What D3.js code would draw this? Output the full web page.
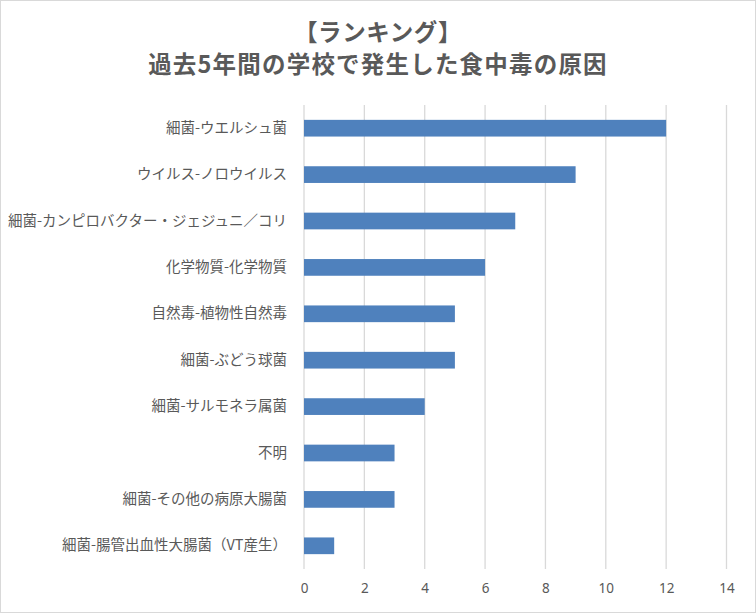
<!DOCTYPE html>
<html><head><meta charset="utf-8">
<script src="https://cdn.jsdelivr.net/npm/d3@7"></script>
<style>
body{margin:0;background:#fff;}
text{font-family:"Noto Sans CJK JP","Noto Sans",sans-serif;fill:#595959;}
</style></head>
<body><svg id="c" width="756" height="613"></svg>
<script>
const titleLines = ["【ランキング】", "過去5年間の学校で発生した食中毒の原因"];
const categories = ["細菌-ウエルシュ菌","ウイルス-ノロウイルス","細菌-カンピロバクター・ジェジュニ／コリ","化学物質-化学物質","自然毒-植物性自然毒","細菌-ぶどう球菌","細菌-サルモネラ属菌","不明","細菌-その他の病原大腸菌","細菌-腸管出血性大腸菌（VT産生）"];
const values = [12, 9, 7, 6, 5, 5, 4, 3, 3, 1];
const xTicks = [0, 2, 4, 6, 8, 10, 12, 14];

const svg = d3.select("#c");
svg.append("rect").attr("x",0.5).attr("y",0.5).attr("width",755).attr("height",612)
  .attr("fill","#fff").attr("stroke","#D9D9D9");

const x = d3.scaleLinear().domain([0,14]).range([304, 726.5]);
const y = d3.scaleBand().domain(categories).range([105, 569]).paddingInner(0.64).paddingOuter(0.32);

// title (single text element, two lines)
const title = svg.append("text")
  .attr("text-anchor","middle").attr("font-size",23.5).attr("font-weight","bold");
title.selectAll("tspan").data(titleLines).join("tspan")
  .attr("x",378).attr("y",(d,i)=>33+i*31.5).attr("dy","0.36em")
  .attr("letter-spacing",(d,i)=>i===1?1.2:0.6)
  .text(d=>d);

// gridlines
svg.append("g").selectAll("line").data(xTicks).join("line")
  .attr("x1",d=>x(d)).attr("x2",d=>x(d)).attr("y1",105).attr("y2",569)
  .attr("stroke","#D9D9D9").attr("stroke-width",1.3);

// bars
svg.append("g").selectAll("rect").data(values).join("rect")
  .attr("x",x(0)).attr("y",(d,i)=>y(categories[i]))
  .attr("width",d=>x(d)-x(0)).attr("height",y.bandwidth())
  .attr("fill","#4F81BD");

// x axis labels
const xa = svg.append("g").attr("transform","translate(0,569)")
  .call(d3.axisBottom(x).tickValues(xTicks).tickSize(0).tickPadding(14).tickFormat(d3.format("d")));
xa.select(".domain").remove();
xa.selectAll("text").attr("font-size",13.5).attr("fill","#595959")
  .style("font-family","'Noto Sans','Open Sans',sans-serif");

// y axis labels
const ya = svg.append("g").attr("transform","translate(304,0)")
  .call(d3.axisLeft(y).tickSize(0).tickPadding(17));
ya.select(".domain").remove();
ya.selectAll("text").attr("font-size",14.5).attr("fill","#595959");
</script></body></html>
